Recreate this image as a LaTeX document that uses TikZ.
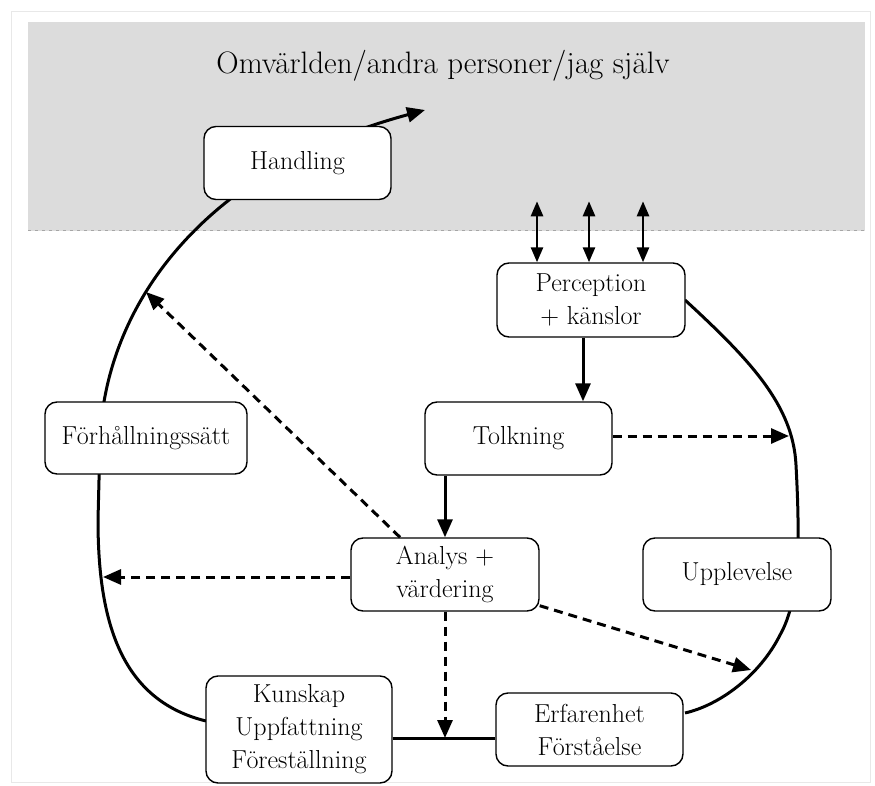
\documentclass[tikz,border=0pt]{standalone}
\usetikzlibrary{arrows.meta}
\definecolor{bggray}{RGB}{220,220,220}
\definecolor{framegray}{RGB}{232,232,232}
\definecolor{txt}{RGB}{0,0,0}
\tikzset{
  box/.style={draw=black, line width=1.4pt, rounded corners=12pt, fill=white,
    minimum width=187pt, minimum height=73pt, align=center, text=txt,
    font=\fontsize{26}{33}\selectfont, inner sep=1pt},
  conn/.style={line width=3pt, black},
  tip/.style={-{Triangle[length=18pt,width=15pt]}},
  dtip/.style={{Triangle[length=15pt,width=12pt]}-{Triangle[length=15pt,width=12pt]}},
  dsh/.style={line width=3pt, dash pattern=on 9pt off 6pt}
}
\begin{document}
\begin{tikzpicture}[x=1pt,y=-1pt]
\useasboundingbox (0,0) rectangle (875,786);
\fill[white] (0,0) rectangle (875,786);
\draw[framegray, line width=1pt] (11,12) rectangle (870,782);
\fill[bggray] (28,22) rectangle (865,231);
\draw[gray!70, line width=1pt, dash pattern=on 3pt off 4pt] (28,231) -- (865,231);
\node[text=txt, font=\fontsize{31}{36}\selectfont] (title) at (443,66) {Omvärlden/andra personer/jag själv};

% coordinates for free ends
\coordinate (lend) at (425,110);
\coordinate (rtip) at (789,436);
\coordinate (ltip) at (103,577);
\coordinate (uptip) at (146,292);
\coordinate (drtip) at (751,670);

% main curves (drawn first, boxes on top)
\draw[conn, tip] (206,721) coordinate (lstart)
  .. controls (120,700) and (98,620) .. (98,520) -- (100,440)
  .. controls (103,360) and (140,270) .. (229,200)
  .. controls (290,150) and (370,125) .. (lend);
\draw[conn] (685,300) coordinate (rstart)
  .. controls (750,360) and (793,405) .. (796,465)
  .. controls (800,540) and (800,600) .. (780,635)
  .. controls (760,675) and (720,705) .. (685,713) coordinate (rend);

% nodes
\node[box] (hand) at (297.5,163) {Handling};
\node[box, minimum width=188pt, minimum height=74pt] (perc) at (591,300) {Perception\\+ känslor};
\node[box] (tolk) at (518.5,438.5) {Tolkning};
\node[box, minimum width=202pt, minimum height=72pt] (forh) at (146,438) {Förhållningssätt};
\node[box, minimum width=188pt] (anal) at (445,574.5) {Analys +\\värdering};
\node[box, minimum width=188pt] (uppl) at (737,574.5) {Upplevelse};
\node[box, minimum width=186pt, minimum height=107pt] (kun) at (299,729.5) {Kunskap\\Uppfattning\\Föreställning};
\node[box] (erf) at (589.5,729.5) {Erfarenhet\\Förståelse};

% double arrows
\coordinate (t1) at ([xshift=-54pt,yshift=61pt]perc.north);
\coordinate (t2) at ([xshift=-2pt,yshift=61pt]perc.north);
\coordinate (t3) at ([xshift=52pt,yshift=61pt]perc.north);
\draw[conn, line width=2.6pt, dtip] (t1) -- ([xshift=-54pt]perc.north);
\draw[conn, line width=2.6pt, dtip] (t2) -- ([xshift=-2pt]perc.north);
\draw[conn, line width=2.6pt, dtip] (t3) -- ([xshift=52pt]perc.north);

% solid arrows
\draw[conn, tip] ([xshift=-8pt]perc.south) -- ([xshift=-8pt]perc.south |- tolk.north);
\draw[conn, tip] (anal.north |- tolk.south) -- (anal.north);

% bottom line
\draw[conn] ([yshift=-8.5pt]kun.east) -- ([yshift=-8.5pt]erf.west);
\coordinate (mtip) at ([yshift=-8.5pt]kun.east -| anal.south);

% dashed arrows
\draw[dsh, tip] (tolk.east |- rtip) -- (rtip);
\draw[dsh, tip] (anal.west |- ltip) -- (ltip);
\draw[dsh, tip] ([xshift=-45pt]anal.north) -- (uptip);
\draw[dsh, tip] ([yshift=6pt]anal.south east) -- (drtip);
\draw[dsh, tip] (anal.south) -- (mtip);
\end{tikzpicture}
\end{document}
